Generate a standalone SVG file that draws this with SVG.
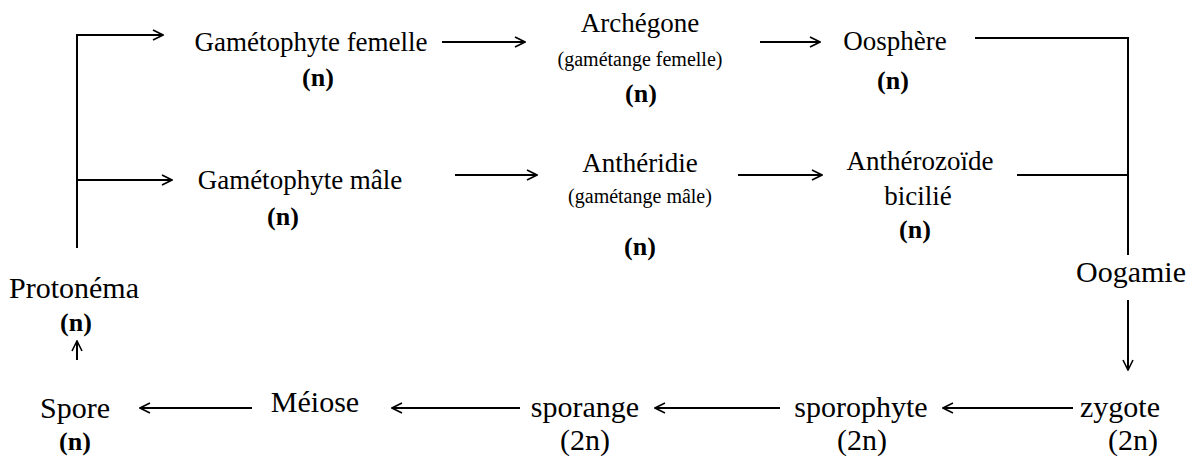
<svg xmlns="http://www.w3.org/2000/svg" width="1198" height="457" viewBox="0 0 1198 457">
<defs>
<marker id="ah" viewBox="0 0 12 12" refX="11" refY="6" markerWidth="12" markerHeight="12" markerUnits="userSpaceOnUse" orient="auto">
<path d="M1,1 L11,6 L1,11" fill="none" stroke="#000" stroke-width="1.6"/>
</marker>
<style>
text{font-family:'Liberation Serif','Times New Roman',serif;fill:#000;text-anchor:middle}
.t{font-size:27px}
.b{font-size:30px}
.n{font-size:26px;font-weight:bold}
.s{font-size:20px}
.c line,.c polyline{stroke:#000;stroke-width:2;fill:none}
</style>
</defs>
<rect width="1198" height="457" fill="#fff"/>
<g class="c" id="connectors">
<polyline points="77,248 77,35 163,35" marker-end="url(#ah)"/>
<line x1="77" y1="180" x2="172" y2="180" marker-end="url(#ah)"/>
<line x1="442" y1="42" x2="525" y2="42" marker-end="url(#ah)"/>
<line x1="760" y1="42" x2="820" y2="42" marker-end="url(#ah)"/>
<line x1="455" y1="175" x2="537" y2="175" marker-end="url(#ah)"/>
<line x1="738" y1="175" x2="822" y2="175" marker-end="url(#ah)"/>
<polyline points="975,38 1128,38 1128,255"/>
<line x1="1017" y1="175" x2="1128" y2="175"/>
<line x1="1128" y1="300" x2="1128" y2="370" marker-end="url(#ah)"/>
<line x1="77" y1="360" x2="77" y2="341" marker-end="url(#ah)"/>
<line x1="252" y1="408" x2="140" y2="408" marker-end="url(#ah)"/>
<line x1="520" y1="408" x2="392" y2="408" marker-end="url(#ah)"/>
<line x1="780" y1="408" x2="655" y2="408" marker-end="url(#ah)"/>
<line x1="1073" y1="408" x2="943" y2="408" marker-end="url(#ah)"/>
</g>
<g id="gametophyte-femelle"><text class="t" x="311" y="51">Gamétophyte femelle</text><text class="n" x="318" y="86">(n)</text></g>
<g id="archegone"><text class="t" x="640" y="32" font-size="25">Archégone</text><text class="s" x="640" y="66">(gamétange femelle)</text><text class="n" x="641" y="102">(n)</text></g>
<g id="oosphere"><text class="t" x="895" y="50" font-size="29.5">Oosphère</text><text class="n" x="893" y="89">(n)</text></g>
<g id="gametophyte-male"><text class="t" x="300" y="189" font-size="29.5">Gamétophyte mâle</text><text class="n" x="283" y="225">(n)</text></g>
<g id="antheridie"><text class="t" x="640" y="172" font-size="29.5">Anthéridie</text><text class="s" x="640" y="203" font-size="22">(gamétange mâle)</text><text class="n" x="640" y="255">(n)</text></g>
<g id="antherozoide"><text class="t" x="920" y="170" font-size="30">Anthérozoïde</text><text class="t" x="918" y="205">bicilié</text><text class="n" x="915" y="238">(n)</text></g>
<g id="oogamie"><text class="b" x="1131" y="282">Oogamie</text></g>
<g id="protonema"><text class="b" x="74" y="298">Protonéma</text><text class="n" x="76" y="331">(n)</text></g>
<g id="spore"><text class="b" x="75" y="418">Spore</text><text class="n" x="75" y="450">(n)</text></g>
<g id="meiose"><text class="b" x="315" y="412">Méiose</text></g>
<g id="sporange"><text class="b" x="585" y="417">sporange</text><text class="b" x="585" y="450">(2n)</text></g>
<g id="sporophyte"><text class="b" x="861" y="417">sporophyte</text><text class="b" x="862" y="450">(2n)</text></g>
<g id="zygote"><text class="b" x="1120" y="417">zygote</text><text class="b" x="1133" y="450">(2n)</text></g>
</svg>
